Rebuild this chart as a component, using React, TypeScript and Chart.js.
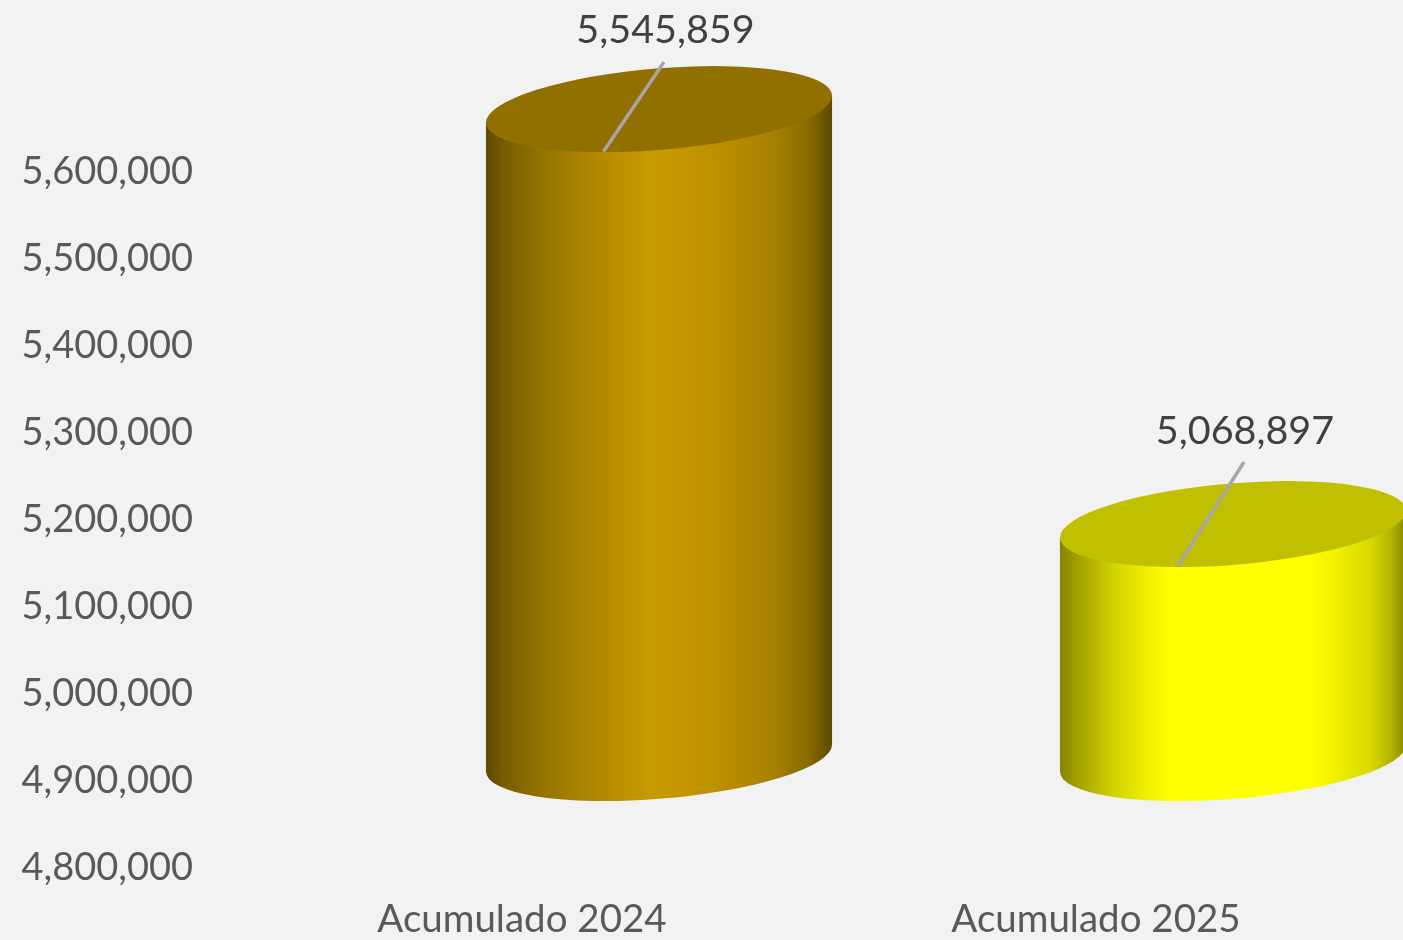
import React, { useEffect, useRef } from "react";
import { Chart, registerables } from "chart.js";

Chart.register(...registerables);

const categories = ["Acumulado 2024", "Acumulado 2025"];
const values = [5545859, 5068897];
const yMin = 4800000;
const yMax = 5600000;
const yStep = 100000;

const topColors = ["#927000", "#c0c000"];
const sideStops: [number, string][][] = [
  [
    [0, "#5c4800"],
    [0.06, "#7a5f00"],
    [0.16, "#957300"],
    [0.3, "#ae8600"],
    [0.42, "#c09300"],
    [0.48, "#c79c00"],
    [0.55, "#c69700"],
    [0.7, "#b98d00"],
    [0.84, "#a57f00"],
    [0.93, "#8a6b00"],
    [1, "#5c4800"],
  ],
  [
    [0, "#858500"],
    [0.05, "#a0a000"],
    [0.15, "#d0d000"],
    [0.25, "#f0f000"],
    [0.32, "#ffff00"],
    [0.72, "#ffff00"],
    [0.8, "#efef00"],
    [0.9, "#d8d800"],
    [0.96, "#b0b000"],
    [1, "#858500"],
  ],
];

const FONT = "Lato";
const DEPTH_X = 137;
const DEPTH_Y = -110;
const HALF_H = 43;
const SKEW_Y = 13.5;
const labelOffsets = [
  { x: 6.5, y: -79, lineX: 5, lineY: -47 },
  { x: 12, y: -93, lineX: 11, lineY: -62 },
];

const cylinders = {
  id: "cylinders",
  afterDatasetsDraw(chart: any) {
    const { ctx } = chart;
    const meta = chart.getDatasetMeta(0);
    meta.data.forEach((el: any, i: number) => {
      const { x, y, base, width } = el.getProps(["x", "y", "base", "width"], true);
      const a = width / 2;
      const cx = x + DEPTH_X;
      const top = y + DEPTH_Y;
      const bot = base + DEPTH_Y;
      const k = -SKEW_Y / a;
      const b = Math.sqrt(HALF_H * HALF_H - SKEW_Y * SKEW_Y);

      ctx.save();
      ctx.transform(1, k, 0, 1, cx, 0);
      const g = ctx.createLinearGradient(-a, 0, a, 0);
      sideStops[i].forEach(([p, c]) => g.addColorStop(p, c));
      ctx.fillStyle = g;
      ctx.beginPath();
      ctx.moveTo(-a, top);
      ctx.lineTo(-a, bot);
      ctx.ellipse(0, bot, a, b, 0, Math.PI, 0, true);
      ctx.lineTo(a, top);
      ctx.closePath();
      ctx.fill();

      ctx.fillStyle = topColors[i];
      ctx.beginPath();
      ctx.ellipse(0, top, a, b, 0, 0, Math.PI * 2);
      ctx.fill();
      ctx.restore();

      const o = labelOffsets[i];
      ctx.save();
      ctx.strokeStyle = "#a6a6a6";
      ctx.lineWidth = 3.5;
      ctx.beginPath();
      ctx.moveTo(cx - 55.5, top + 42.5);
      ctx.lineTo(cx + o.lineX, top + o.lineY);
      ctx.stroke();
      ctx.fillStyle = "#404040";
      ctx.font = `39.5px ${FONT}`;
      ctx.textAlign = "center";
      ctx.textBaseline = "middle";
      ctx.fillText(values[i].toLocaleString("en-US"), cx + o.x, top + o.y);
      ctx.restore();
    });
  },
};

const background = {
  id: "background",
  beforeDraw(chart: any) {
    const { ctx, width, height } = chart;
    ctx.save();
    ctx.fillStyle = "#f2f2f2";
    ctx.fillRect(0, 0, width, height);
    ctx.restore();
  },
};

export default function App() {
  const ref = useRef<HTMLCanvasElement>(null);
  useEffect(() => {
    const chart = new Chart(ref.current as HTMLCanvasElement, {
      type: "bar",
      data: {
        labels: categories,
        datasets: [
          {
            data: values,
            base: yMin,
            backgroundColor: "transparent",
            categoryPercentage: 1,
            barPercentage: 0.603,
          },
        ],
      },
      options: {
        responsive: false,
        animation: false,
        layout: { padding: { top: 172, right: 20, bottom: 0, left: 0 } },
        plugins: { legend: { display: false }, tooltip: { enabled: false } },
        scales: {
          x: {
            grid: { display: false, drawTicks: false },
            border: { display: false },
            afterFit(s: any) {
              s.height = 72;
            },
            ticks: {
              color: "#595959",
              font: { family: FONT, size: 38.5 },
              padding: 28,
              autoSkip: false,
              maxRotation: 0,
            },
          },
          y: {
            min: yMin,
            max: yMax,
            grid: { display: false, drawTicks: false },
            border: { display: false },
            afterFit(s: any) {
              s.width = 235;
            },
            ticks: {
              stepSize: yStep,
              color: "#595959",
              font: { family: FONT, size: 38 },
              padding: 42,
              callback: (v: any) => Number(v).toLocaleString("en-US"),
            },
          },
        },
      },
      plugins: [background, cylinders],
    } as any);
    return () => chart.destroy();
  }, []);
  return (
    <canvas
      ref={ref}
      width={1403}
      height={940}
      style={{ position: "fixed", left: 0, top: 0, display: "block" }}
    />
  );
}
